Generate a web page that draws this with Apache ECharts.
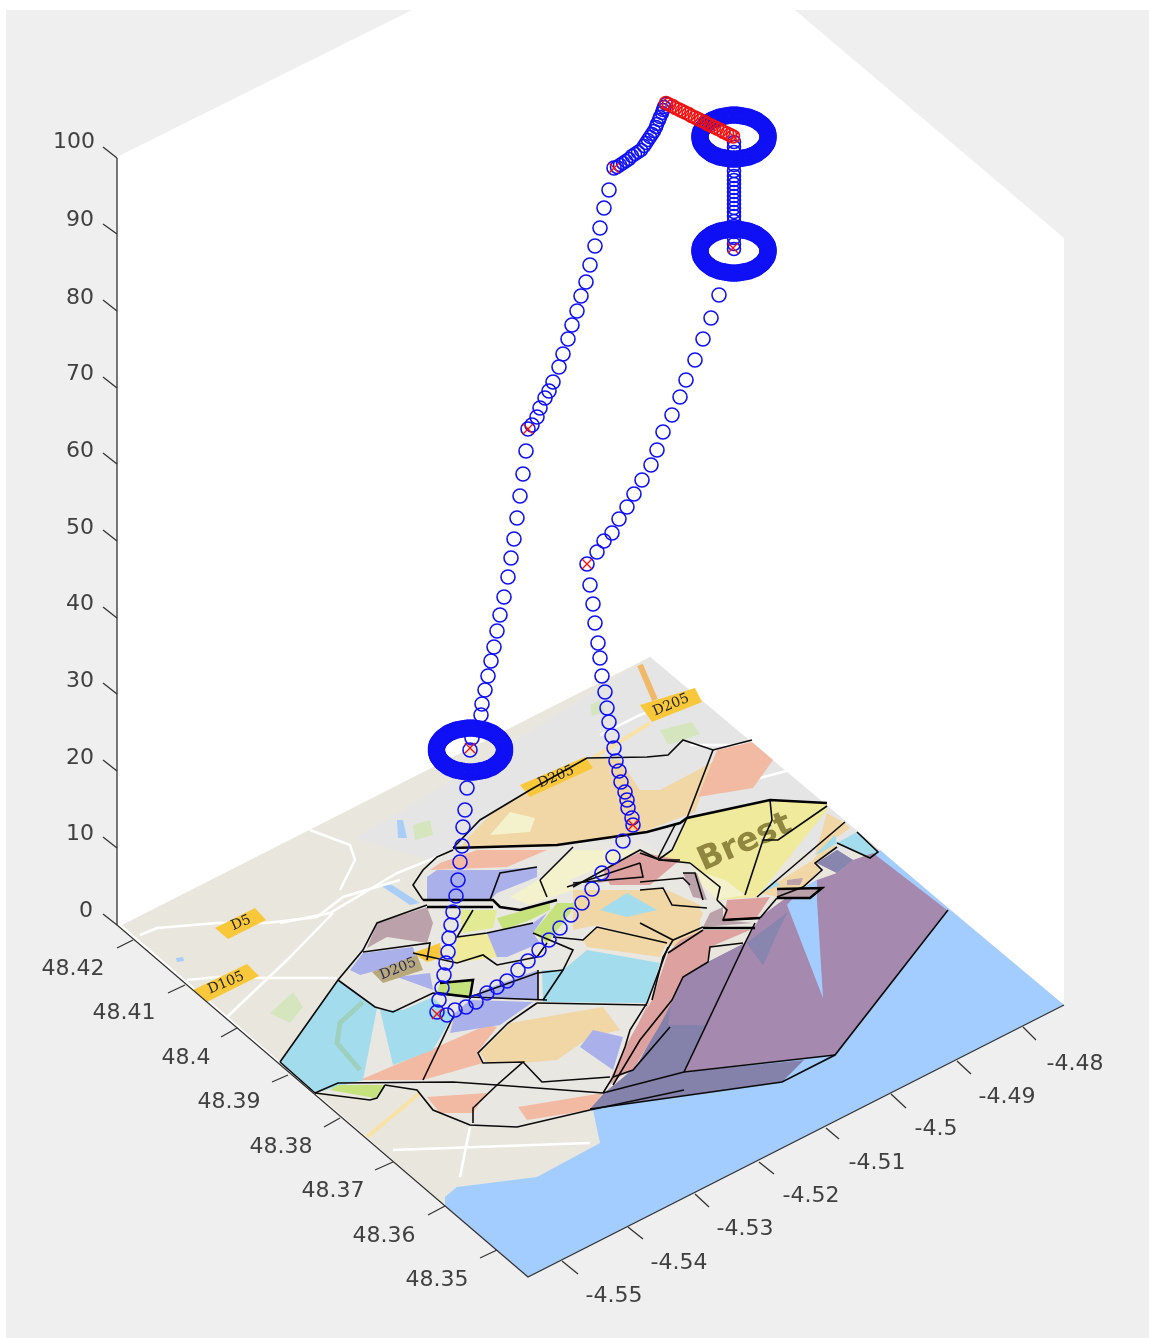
<!DOCTYPE html>
<html><head><meta charset="utf-8">
<style>html,body{margin:0;padding:0;background:#fff}#c{width:1149px;height:1338px}#c canvas{filter:blur(0.5px)}</style>
<script src="https://cdn.jsdelivr.net/npm/echarts@6/dist/echarts.min.js"></script>
</head><body><div id="c"></div>
<script>
// ---- axis labels
const zTickLabels=['0','10','20','30','40','50','60','70','80','90','100'];
const latTickLabels=['48.42','48.41','48.4','48.39','48.38','48.37','48.36','48.35'];
const lonTickLabels=['-4.55','-4.54','-4.53','-4.52','-4.51','-4.5','-4.49','-4.48'];
const zLabelAt=[[86,909],[80,832],[80,756],[80,679],[80,602],[80,526],[80,449],[80,372],[80,296],[80,218],[74,140]];
const latLabelAt=[[73,967],[124,1011],[186,1056],[229,1100],[281,1145],[333,1189],[384,1234],[437,1278]];
const lonLabelAt=[[614,1294],[679,1261],[745,1227],[811,1194],[877,1161],[936,1127],[1007,1095],[1075,1062]];
const zTicks=[[[117,925],[103,914]],[[117,848],[103,837]],[[117,771],[103,760]],[[117,694],[103,683]],[[117,618],[103,607]],[[117,541],[103,530]],[[117,464],[103,453]],[[117,388],[103,377]],[[117,311],[103,300]],[[117,234],[103,224]],[[117,158],[103,147]]];
const latTicks=[[[133,940],[117,948]],[[185,985],[168,993]],[[237,1028],[221,1037]],[[288,1075],[272,1082]],[[340,1118],[324,1127]],[[393,1162],[375,1170]],[[445,1206],[428,1215]],[[497,1250],[480,1258]]];
const lonTicks=[[[562,1261],[578,1274]],[[628,1227],[643,1239]],[[695,1194],[709,1207]],[[759,1162],[774,1174]],[[826,1128],[839,1139]],[[891,1094],[906,1108]],[[957,1061],[971,1074]],[[1023,1027],[1036,1040]]];
const axisEdges=[[[117,158],[117,925],[528,1277],[1064,1005]]];

// ---- backdrop
const panel=[[[6,10],[1149,10],[1149,1338],[6,1338]]];
const box=[[[117,157],[412,10],[795,10],[1064,238],[1064,1005],[528,1277],[117,925]]];
// ---- map image
const mapBase=[[[122,925],[650,657],[1064,1005],[528,1277]]];
const mapGrey=[[[400,812],[650,657],[880,850],[660,860],[453,850],[430,860],[395,850],[355,838]]];
const sea=[[[593,1110],[600,1143],[537,1177],[457,1187],[445,1197],[445,1205],[528,1277],[1064,1005],[948,908],[880,850],[780,920],[640,1060]]];
const mapGreen=[[[270,1013],[293,992],[303,1007],[290,1023]],[[413,825],[430,820],[433,835],[415,840]],[[590,705],[600,700],[605,712],[592,716]],[[660,730],[692,722],[700,734],[668,745]]];
const mapWater=[[[397,820],[403,820],[407,838],[398,838]],[[380,885],[392,885],[420,903],[410,905]],[[176,958],[183,957],[184,961],[177,962]]];
const roadsWhite=[[[140,935],[157,928],[217,923],[267,923],[317,917],[343,897],[400,880]],[[187,980],[217,977],[267,978],[337,978]],[[227,1017],[287,960],[333,913]],[[280,923],[330,913],[397,873],[447,853]],[[310,830],[350,845],[355,860],[340,890]],[[393,1150],[590,1143]],[[470,1127],[460,1177]],[[600,735],[640,715],[700,690]],[[690,745],[760,745]],[[715,790],[790,770]],[[530,1030],[620,1090]],[[420,1062],[500,1010]],[[740,880],[700,850]],[[540,1063],[563,1077]]];
const roadsYellow=[[[367,1137],[420,1093]],[[360,1070],[383,1082]],[[593,758],[650,723]]];
const roadsOrange=[[[640,665],[655,700]]];
const river=[[[363,1002],[340,1023],[337,1043],[360,1070]]];
const roadSigns=[[[215,928],[255,908],[266,920],[228,939]],[[193,990],[247,964],[259,976],[207,1002]],[[640,705],[695,688],[702,702],[652,722]],[[520,785],[585,757],[593,768],[530,797]],[[413,953],[440,943],[443,957],[427,962]]];
const dimSign=[[[372,972],[417,955],[423,970],[383,983]]];
const signTexts=['D5','D105','D205','D205'];
const signTextAt=[[241,923],[226,983],[671,705],[556,777]];
const dimSignText=['D205'];const dimSignAt=[[398,969]];
const cityName=['Brest'];const cityAt=[[745,843]];

// ---- coloured regions
const interior=[[[280,1062],[338,980],[377,923],[427,905],[423,870],[453,848],[640,840],[690,870],[720,900],[757,897],[670,1000],[603,1093],[590,1110],[517,1127],[470,1125],[433,1110],[417,1090],[315,1093]]];
const tan=[[[468,838],[490,815],[530,790],[587,758],[620,760],[640,790],[660,790],[713,762],[695,812],[640,833],[557,845],[460,848]],
 [[573,890],[667,890],[700,905],[700,950],[668,945],[597,925],[573,930]],
 [[640,890],[663,888],[673,903],[697,907],[703,913],[697,927],[673,940],[640,923]],
 [[480,1053],[510,1023],[603,1007],[620,1030],[590,1037],[557,1060],[523,1063],[487,1063]],
 [[583,940],[597,927],[667,943],[660,957],[587,947]],
 [[760,893],[813,860],[827,843],[837,847],[817,863],[820,870],[803,887],[777,897]],
 [[827,813],[843,822],[850,828],[830,842],[815,855]]];
const salmon=[[[717,750],[752,742],[773,760],[753,788],[698,797]],
 [[360,1080],[430,1050],[487,1025],[497,1027],[477,1053],[483,1063],[423,1080]],
 [[427,1097],[487,1093],[473,1113],[440,1113]],
 [[518,1107],[603,1093],[590,1110],[527,1120]],
 [[440,863],[477,850],[547,850],[507,867],[430,870]]];
const rose=[[[703,930],[750,930],[710,947],[707,962],[683,977],[673,1000],[652,1000],[668,953],[680,940]],
 [[670,993],[650,1000],[625,1070],[610,1085],[612,1075],[630,1040],[650,1000]],
 [[652,1000],[673,1000],[660,1025],[633,1070],[613,1080],[625,1047]],
 [[727,900],[770,897],[757,917],[723,920]],
 [[603,870],[640,852],[680,860],[650,885],[610,885]]];
const yellow=[[[687,818],[770,800],[827,803],[827,810],[757,897],[717,900],[720,887],[690,863],[660,860],[673,850]],
 [[457,937],[487,933],[497,957],[453,963]]];
const creamy=[[[543,877],[573,850],[640,850],[570,880],[573,890],[530,905],[510,897]],[[695,870],[725,880],[745,895],[717,900],[702,885]],[[490,835],[510,812],[535,818],[530,832]]];
const lightBlue=[[[280,1062],[338,980],[377,1008],[363,1080],[315,1093]],
 [[380,1010],[403,1010],[433,997],[452,1017],[433,1050],[393,1065]],
 [[542,970],[563,970],[587,950],[660,963],[647,1003],[543,1002]],
 [[600,910],[627,893],[657,910],[627,917]],
 [[857,832],[878,852],[870,858],[837,843]],
 [[815,855],[835,835],[837,843],[820,853]],
 [[760,893],[775,880],[780,885]]];
const periwinkle=[[[450,1033],[455,1013],[470,1000],[533,1002],[500,1025]],
 [[483,990],[538,970],[538,1000],[477,998]],
 [[593,1030],[623,1037],[613,1070],[580,1047]],
 [[350,970],[363,953],[413,947],[417,960],[360,975]],
 [[397,977],[430,973],[433,990]],
 [[487,933],[533,923],[547,913],[533,933],[540,943],[507,957],[497,957]],
 [[427,877],[437,870],[497,870],[537,867],[537,877],[497,893],[490,900],[427,900]]];
const limeGreen=[[[330,1090],[338,1085],[385,1085],[375,1098]],[[440,983],[473,980],[470,997],[437,993]],
 [[497,918],[550,903],[550,910],[530,920],[503,930]],[[533,933],[557,903],[577,903],[563,923],[547,943]]];
const paleGreen=[[[460,910],[497,910],[493,928],[463,933]]];
const mauve=[[[367,948],[377,923],[427,907],[433,923],[427,943],[387,937]],
 [[710,913],[723,907],[723,920],[753,923],[703,927]],
 [[613,870],[637,863],[640,877],[597,883]],
 [[683,873],[697,873],[707,900],[693,897]]];
const harbourBars=[[[777,888],[822,888],[810,897],[777,897]],[[787,880],[803,878],[800,885],[787,885]]];
const purple=[[[873,853],[947,910],[835,1055],[684,1072],[745,943],[760,917],[783,900],[817,880],[837,873],[853,860]]];
const purpleInner=[[[745,943],[708,962],[683,977],[672,1000],[668,1025],[705,1025]]];
const darkPurple=[[[817,863],[837,850],[853,860],[837,873]],[[747,943],[787,913],[777,933],[763,965]],
 [[590,1109],[604,1093],[636,1067],[672,1000],[708,962],[745,943],[684,1072],[804,1060],[782,1082]]];
const seaWedge=[[[787,905],[800,890],[817,880],[817,900],[823,998]]];

// ---- black boundaries
const thinLines=[
 [[453,848],[480,820],[530,790],[587,758],[647,757],[668,755],[683,740],[713,750],[752,740]],
 [[713,750],[687,818],[672,850],[658,860]],[[675,825],[658,858]],
 [[770,800],[772,820],[763,840],[745,895]],[[763,840],[778,840],[827,806]],
 [[757,897],[845,822]],[[837,843],[870,858],[878,852],[857,832]],[[837,847],[815,863],[822,870],[803,887],[777,897]],
 [[948,910],[835,1055],[782,1082],[590,1109]],[[835,1055],[684,1072]],[[755,923],[745,943],[684,1072]],
 [[760,918],[723,920],[727,910],[717,900]],[[760,918],[777,898]],[[703,928],[755,928]],
 [[743,943],[710,947],[708,962],[683,977],[672,1000],[640,1040],[613,1085]],
 [[668,947],[647,1003],[630,1030],[625,1047],[613,1077],[603,1093]],[[670,1027],[633,1070],[613,1077]],
 [[315,1093],[338,1083],[453,1082],[497,1085],[603,1093],[684,1072]],[[590,1110],[684,1090]],
 [[385,1085],[417,1090],[433,1110],[470,1125],[517,1127],[590,1110]],[[315,1093],[370,1100],[377,1098],[385,1085]],
 [[473,1123],[473,1108],[497,1085],[523,1062],[483,1063],[478,1053],[508,1023],[537,1003]],
 [[523,1062],[542,1082],[610,1077]],[[537,1003],[647,1005]],[[423,1080],[453,1017]],
 [[280,1062],[338,980],[363,950],[377,923],[427,905]],[[280,1062],[315,1093]],
 [[338,980],[375,1007],[393,1012],[433,993],[470,997],[547,1000]],
 [[363,952],[430,943],[427,960]],[[413,953],[457,963],[483,955],[497,965],[537,957],[547,943]],
 [[538,970],[538,1000]],[[543,1000],[563,970],[573,950],[533,933]],[[553,937],[583,940],[597,927],[667,943]],
 [[470,997],[537,973],[563,970]],[[540,880],[573,847]],[[540,880],[547,897]],[[567,887],[640,863]],
 [[640,863],[643,877],[573,883]],[[680,860],[660,860],[640,850],[573,887]],
 [[490,900],[500,873],[537,867]],[[453,850],[437,857],[423,870],[413,885],[423,900]],
 [[640,882],[683,878],[690,885]],[[640,890],[663,888],[672,905],[707,908]],[[690,863],[720,887],[717,900]],
 [[683,873],[695,873],[703,900]],[[640,853],[660,860],[690,863]],
 [[640,923],[673,940],[703,927]],[[673,940],[663,957],[652,1000]],[[668,953],[703,930]],
 [[473,910],[457,937],[487,933],[533,923]]];
const thickLines=[[[423,900],[493,900],[500,907],[520,910],[557,900]],[[427,907],[493,907]],
 [[453,848],[557,845],[647,832],[680,823],[687,818],[770,800],[827,803]],
 [[440,983],[473,980],[470,997],[437,993]],[[777,889],[822,888],[810,898],[777,898]],[[703,928],[755,928]],[[723,920],[760,918]]];

// ---- flight track, ring circuits and waypoints
const legGround=[[467,788],[465,810],[463,827],[462,846],[460,862],[458,880],[456,896],[453,912],[451,925],[449,938],[448,952],[446,963],[444,975],[442,988],[439,1000],[437,1012],[447,1015],[455,1010],[466,1007],[476,1002],[487,993],[497,987],[507,981],[518,970],[528,961],[539,950],[549,940],[560,928],[571,915],[582,903],[592,889],[602,873],[613,857],[623,841]];
const legUp1=[[633,825],[632,818],[628,808],[627,800],[625,792],[621,782],[619,771],[616,761],[614,748],[612,736],[609,722],[607,708],[605,692],[602,676],[600,658],[598,643],[595,623],[593,604],[590,585],[587,564]];
const legUp2=[[597,552],[604,541],[612,533],[619,519],[627,507],[634,494],[642,480],[651,465],[657,450],[663,432],[672,415],[680,397],[686,380],[695,360],[703,339],[711,318],[719,295]];
const legUp3=[[470,750],[472,738],[481,715],[482,704],[485,690],[488,676],[491,661],[494,647],[497,631],[500,615],[504,597],[508,577],[511,558],[514,539],[517,518],[520,496],[523,474],[526,451],[528,429]];
const legUp4=[[532,425],[537,417],[540,408],[545,398],[549,391],[553,382],[559,367],[563,354],[568,339],[572,325],[577,311],[581,296],[586,282],[590,265],[595,246],[600,228],[604,208],[609,190],[614,168]];
const legCurve=[[617,167],[620,165],[623,163],[626,161],[629,159],[632,156],[635,154],[638,152],[641,150],[644,146],[646,143],[648,140],[650,137],[652,134],[654,131],[656,127],[657,124],[659,120],[660,117],[662,113],[663,110],[664,107],[666,104]];
const legTop=[[666,103],[669,104.5],[672.5,106],[675.5,108],[679,109.5],[682,111],[685,112.5],[688.5,114],[691.5,116],[695,117.5],[698,119],[701,120.5],[704.5,122],[707.5,124],[711,125.5],[714,127],[717,128.5],[720.5,130],[723.5,132],[727,133.5],[730,135],[733,136.5]];
const legColumn=[[734,142],[734,147],[734,152],[734,158],[734,165],[734,171],[734,176],[734,180],[734,184],[734,188],[734,192],[734,196],[734,200],[734,204],[734,208],[734,212],[734,216],[734,221],[734,226],[734,232],[734,238],[734,244],[734,249]];
const ringTop=[[768,137],[768,139],[767.5,141],[767,143],[766,144.5],[765,146],[763.5,148],[762,149.5],[760,151],[758,152.5],[756,154],[753.5,155],[751,156],[748.5,157],[745.5,157.5],[743,158],[740,158.5],[737,159],[734,159],[731,159],[728,158.5],[725,158],[722.5,157.5],[719.5,157],[717,156],[714.5,155],[712,154],[710,152.5],[708,151],[706,149.5],[704.5,148],[703,146],[702,144.5],[701,143],[700.5,141],[700,139],[700,137],[700,135],[700.5,133],[701,131],[702,129.5],[703,128],[704.5,126],[706,124.5],[708,123],[710,121.5],[712,120],[714.5,119],[717,118],[719.5,117],[722.5,116.5],[725,116],[728,115.5],[731,115],[734,115],[737,115],[740,115.5],[743,116],[745.5,116.5],[748.5,117],[751,118],[753.5,119],[756,120],[758,121.5],[760,123],[762,124.5],[763.5,126],[765,128],[766,129.5],[767,131],[767.5,133],[768,135]];
const ringMid=[[768,251],[768,253],[767.5,255],[767,257],[766,258.5],[765,260],[763.5,262],[762,263.5],[760,265],[758,266.5],[756,268],[753.5,269],[751,270],[748.5,271],[745.5,271.5],[743,272],[740,272.5],[737,273],[734,273],[731,273],[728,272.5],[725,272],[722.5,271.5],[719.5,271],[717,270],[714.5,269],[712,268],[710,266.5],[708,265],[706,263.5],[704.5,262],[703,260],[702,258.5],[701,257],[700.5,255],[700,253],[700,251],[700,249],[700.5,247],[701,245],[702,243.5],[703,242],[704.5,240],[706,238.5],[708,237],[710,235.5],[712,234],[714.5,233],[717,232],[719.5,231],[722.5,230.5],[725,230],[728,229.5],[731,229],[734,229],[737,229],[740,229.5],[743,230],[745.5,230.5],[748.5,231],[751,232],[753.5,233],[756,234],[758,235.5],[760,237],[762,238.5],[763.5,240],[765,242],[766,243.5],[767,245],[767.5,247],[768,249]];
const ringLow=[[504.5,750],[504.5,752],[504,754],[503.5,756],[502.5,757.5],[501.5,759],[500,761],[498.5,762.5],[496.5,764],[494.5,765.5],[492.5,767],[490,768],[487.5,769],[485,770],[482,770.5],[479.5,771],[476.5,771.5],[473.5,772],[470.5,772],[467.5,772],[464.5,771.5],[461.5,771],[459,770.5],[456,770],[453.5,769],[451,768],[448.5,767],[446.5,765.5],[444.5,764],[442.5,762.5],[441,761],[439.5,759],[438.5,757.5],[437.5,756],[437,754],[436.5,752],[436.5,750],[436.5,748],[437,746],[437.5,744],[438.5,742.5],[439.5,741],[441,739],[442.5,737.5],[444.5,736],[446.5,734.5],[448.5,733],[451,732],[453.5,731],[456,730],[459,729.5],[461.5,729],[464.5,728.5],[467.5,728],[470.5,728],[473.5,728],[476.5,728.5],[479.5,729],[482,729.5],[485,730],[487.5,731],[490,732],[492.5,733],[494.5,734.5],[496.5,736],[498.5,737.5],[500,739],[501.5,741],[502.5,742.5],[503.5,744],[504,746],[504.5,748]];
const waypoints=[[437,1014],[633,825],[587,564],[470,748],[528,429],[614,168],[734,137],[733,248]];

// ---- draw helpers (styles live here, not in the data)
const polys=(name,list,color,z)=>({type:'custom',name,coordinateSystem:'cartesian2d',silent:true,clip:false,z,data:list.map((_,i)=>[i]),
 renderItem:(p,api)=>({type:'polygon',shape:{points:list[api.value(0)].map(q=>api.coord(q))},style:{fill:color}})});
const lines=(name,list,color,width,z)=>({type:'custom',name,coordinateSystem:'cartesian2d',silent:true,clip:false,z,data:list.map((_,i)=>[i]),
 renderItem:(p,api)=>({type:'polyline',shape:{points:list[api.value(0)].map(q=>api.coord(q))},style:{stroke:color,lineWidth:width,fill:null,lineJoin:'miter'}})});
const texts=(name,strs,at,opt,z)=>({type:'custom',name,coordinateSystem:'cartesian2d',silent:true,clip:false,z,data:strs.map((_,i)=>[i]),
 renderItem:(p,api)=>{const i=api.value(0),c=api.coord(at[i]);return{type:'text',x:c[0],y:c[1]+(opt.dy||0),rotation:(opt.rot||0)*Math.PI/180,
  style:{text:strs[i],fill:opt.color,font:opt.font,align:'center',verticalAlign:'middle'}}}});
const track=(name,data,color,z,size,bw)=>({type:'scatter',name,data,symbol:'circle',symbolSize:size||14,silent:true,clip:false,z,animation:false,
 itemStyle:{color:'rgba(0,0,0,0)',borderColor:color,borderWidth:bw||1.6,opacity:1}});
const BLUE='#1010f5',AXIS='#333333',LABEL='#404040',FONT='22px "DejaVu Sans"';

const series=[
 polys('panel',panel,'#efefef',1),polys('box',box,'#ffffff',2),
 polys('map',mapBase,'#e9e7dd',3),polys('city',mapGrey,'#e5e5e5',4),polys('parks',mapGreen,'#d5e6bf',5),polys('water',mapWater,'#a9cdf7',5),
 lines('roads',roadsWhite,'#ffffff',2.5,6),lines('yellowRoads',roadsYellow,'#f8e2a6',4,6),lines('orangeRoad',roadsOrange,'#f0b868',6,6),
 polys('sea',sea,'#a3ccff',7),polys('interior',interior,'#e9e7e2',8),
 polys('tan',tan,'#f1d6a6',9),polys('salmon',salmon,'#f2baa2',10),polys('yellow',yellow,'#f0ea9c',10),polys('cream',creamy,'#f3f2cc',11),
 polys('lightBlue',lightBlue,'#a3dcec',11),lines('river',river,'#9fd0bd',5,11),polys('periwinkle',periwinkle,'#aab0ea',11),
 polys('lime',limeGreen,'#c5e27c',12),polys('paleGreen',paleGreen,'#e2ea94',12),polys('mauve',mauve,'#bba2aa',12),
 polys('purple',purple,'#a689ae',13),polys('dark',darkPurple,'#8481aa',13),polys('purpleInner',purpleInner,'#9d86ae',14),polys('rose',rose,'#dda29f',14),polys('wedge',seaWedge,'#a3ccff',14),polys('darkTop',[darkPurple[0],darkPurple[1]],'#8885ae',14),
 polys('harbour',harbourBars,'#bba2aa',14),
 polys('signs',roadSigns,'#f8c83a',15),polys('dimSign',dimSign,'#b7a97c',15),
 texts('signText',signTexts,signTextAt,{color:'#222',font:'14px "DejaVu Serif"',rot:23},16),
 texts('dimText',dimSignText,dimSignAt,{color:'#2a2a5a',font:'14px "DejaVu Serif"',rot:22},16),
 texts('city',cityName,cityAt,{color:'#8f873f',font:'bold 33px "DejaVu Sans"',rot:24},16),
 lines('outlineThin',thinLines,'#0a0a0a',1.6,17),lines('outlineThick',thickLines,'#000000',2.5,17),
 lines('edges',axisEdges,AXIS,1.3,18),lines('zTicks',zTicks,AXIS,1.3,18),lines('latTicks',latTicks,AXIS,1.3,18),lines('lonTicks',lonTicks,AXIS,1.3,18),
 texts('zLabels',zTickLabels,zLabelAt,{color:LABEL,font:FONT,dy:2},19),texts('latLabels',latTickLabels,latLabelAt,{color:LABEL,font:FONT,dy:2},19),texts('lonLabels',lonTickLabels,lonLabelAt,{color:LABEL,font:FONT,dy:2},19),
 track('legGround',legGround,BLUE,20),track('legUp1',legUp1,BLUE,20),track('legUp2',legUp2,BLUE,20),track('legUp3',legUp3,BLUE,20),track('legUp4',legUp4,BLUE,20),
 track('legCurve',legCurve,BLUE,20,13),track('legColumn',legColumn,BLUE,20,13),
 track('ringTop',ringTop,BLUE,20,14.5,3),track('ringMid',ringMid,BLUE,20,14.5,3),track('ringLow',ringLow,BLUE,20,14.5,3),
 track('legTop',legTop,'#f01010',21,13),
 {type:'scatter',name:'waypoints',data:waypoints,symbol:'path://M0 0L10 10M10 0L0 10',symbolSize:10,silent:true,clip:false,z:22,
  itemStyle:{color:'rgba(0,0,0,0)',borderColor:'#f01010',borderWidth:1.4,opacity:1}}
];
const chart=echarts.init(document.getElementById('c'),null,{renderer:'canvas',width:1149,height:1338});
chart.setOption({animation:false,backgroundColor:'#ffffff',
 grid:{left:0,right:0,top:0,bottom:0},
 xAxis:{type:'value',min:0,max:1149,show:false},
 yAxis:{type:'value',min:0,max:1338,inverse:true,show:false},
 tooltip:{show:false},series});
</script></body></html>
